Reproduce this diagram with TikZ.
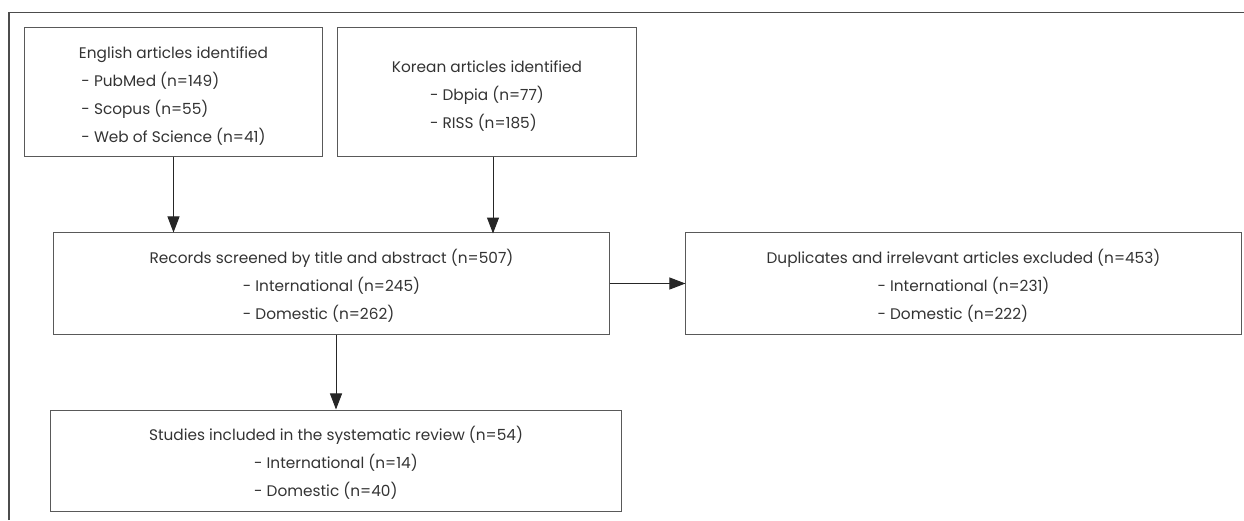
\documentclass[tikz,border=0pt]{standalone}
\usepackage{fontspec}
\setmainfont{Poppins}
\usetikzlibrary{arrows.meta}
\newcommand{\srclist}[1]{\begin{tabular}[t]{@{}l@{}}#1\end{tabular}}
\newcommand{\boxhead}[1]{\rule{0pt}{17.5pt}#1}

\begin{document}
\begin{tikzpicture}[x=0.025cm,y=-0.025cm,
        box/.style={draw=black!65,rectangle,line width=0.7pt,inner sep=0pt,align=center,text=black!80,font=\fontsize{10.9}{19.9}\selectfont},
        arr/.style={draw=black!85,line width=0.7pt,-{Triangle[length=0.4cm,width=0.3cm]}}
      ]
      \useasboundingbox (0,0) rectangle (1244,520);
      \draw[black!70,line width=0.9pt] (9,520) -- (9,12.5) -- (1244,12.5);
      \node[box,minimum width=7.425cm,minimum height=3.2cm] (english) at (173.5,92) {\boxhead{English articles identified}\\ \srclist{- PubMed (n=149)\\- Scopus (n=55)\\- Web of Science (n=41)}};
      \node[box,minimum width=7.45cm,minimum height=3.2cm] (korean) at (487,92) {\boxhead{Korean articles identified}\\ \srclist{- Dbpia (n=77)\\- RISS (n=185)}};
      \node[box,minimum width=13.875cm,minimum height=2.525cm] (screened) at (331.5,283.5) {\boxhead{Records screened by title and abstract (n=507)}\\ \srclist{- International (n=245)\\- Domestic (n=262)}};
      \node[box,minimum width=13.875cm,minimum height=2.525cm] (excluded) at (963.5,283.5) {\boxhead{Duplicates and irrelevant articles excluded (n=453)}\\ \srclist{- International (n=231)\\- Domestic (n=222)}};
      \node[box,minimum width=14.25cm,minimum height=2.525cm] (included) at (336,460.5) {\boxhead{Studies included in the systematic review (n=54)}\\ \srclist{- International (n=14)\\- Domestic (n=40)}};
      \draw[arr] (english.south) -- (english.south |- screened.north);
      \draw[arr] ([xshift=0.15cm]korean.south) -- ++(0,77);
      \draw[arr] (screened.east) -- (excluded.west);
      \draw[arr] (included.north |- screened.south) -- (included.north);
    \end{tikzpicture}
\end{document}
